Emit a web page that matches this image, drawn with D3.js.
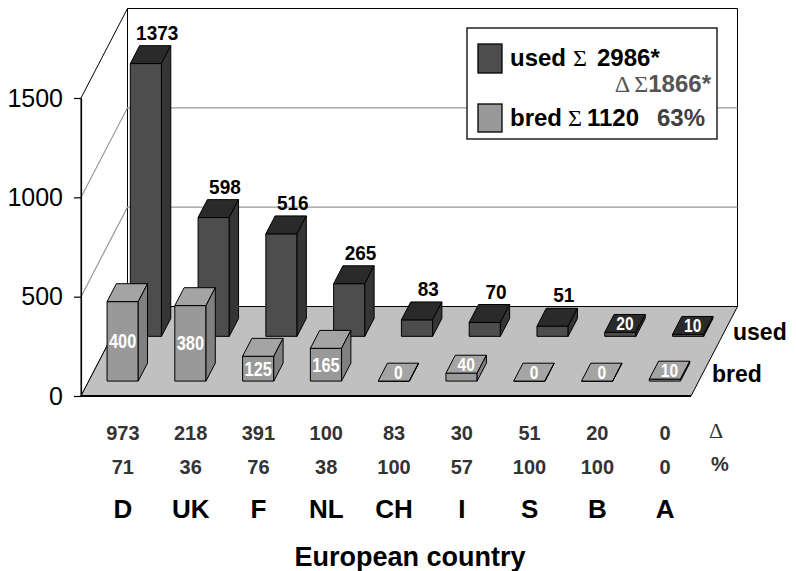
<!DOCTYPE html>
<html>
<head>
<meta charset="utf-8">
<script src="https://cdn.jsdelivr.net/npm/d3@7"></script>
<style>
  html, body { margin: 0; padding: 0; background: #fff; }
  svg { display: block; font-family: "Liberation Sans", Arial, sans-serif; }
</style>
</head>
<body>
<svg id="chart" width="796" height="571"></svg>
<script>
// Countries and the two series (animals used / bred per country)
const countries = ["D", "UK", "F", "NL", "CH", "I", "S", "B", "A"];
const usedValues = [1373, 598, 516, 265, 83, 70, 51, 20, 10];
const bredValues = [400, 380, 125, 165, 0, 40, 0, 0, 10];
// Difference row (used - bred) and its share of used, in %
const deltaValues = [973, 218, 391, 100, 83, 30, 51, 20, 0];
const pctValues = [71, 36, 76, 38, 100, 57, 100, 100, 0];
const legendPct = 63;
const yTicks = [0, 500, 1000, 1500];
const seriesNames = ["bred", "used"];

const svg = d3.select("#chart");
const FONT = "'Liberation Sans', Arial, sans-serif";
const SERIF = "'Liberation Serif', 'Times New Roman', serif";

// Front plane scales
const x = d3.scaleBand().domain(countries).range([81, 691]);
const y = d3.scaleLinear().domain([0, 1500]).range([396, 98]);
// Depth axis: 0 = front edge of floor, 1 = back wall
const depth = d3.scaleBand().domain(seriesNames).range([0, 1]);
const DX = 46.5, DY = 89.5;
const P = (px, v, d) => [px + DX * d, y(v) - DY * d];
const poly = pts => "M" + pts.map(p => p.join(",")).join("L") + "Z";

const x0 = x.range()[0], x1 = x.range()[1];
const vMax = y.domain()[1];

// Walls
svg.append("path")
  .attr("d", poly([P(x0, 0, 1), P(x0, vMax, 1), P(x1, vMax, 1), P(x1, 0, 1)]))
  .attr("fill", "#fff").attr("stroke", "#000").attr("stroke-width", 1);
svg.append("path")
  .attr("d", poly([P(x0, 0, 0), P(x0, vMax, 0), P(x0, vMax, 1), P(x0, 0, 1)]))
  .attr("fill", "#fff").attr("stroke", "#000").attr("stroke-width", 1);

// Gridlines across side and back wall
yTicks.filter(v => v > 0 && v < vMax).forEach(v => {
  const a = P(x0, v, 0), b = P(x0, v, 1), c = P(x1, v, 1);
  svg.append("path")
    .attr("d", `M${a}L${b}L${c}`)
    .attr("fill", "none").attr("stroke", "#999").attr("stroke-width", 1.2);
});

// Floor
svg.append("path")
  .attr("d", poly([P(x0, 0, 0), P(x1, 0, 0), P(x1, 0, 1), P(x0, 0, 1)]))
  .attr("fill", "#c0c0c0").attr("stroke", "#000").attr("stroke-width", 1);
svg.append("line")
  .attr("x1", P(x0, 0, 0)[0]).attr("y1", P(x0, 0, 0)[1])
  .attr("x2", P(x1, 0, 0)[0]).attr("y2", P(x1, 0, 0)[1])
  .attr("stroke", "#000").attr("stroke-width", 2);

// Value axis on the front-left edge
const axis = svg.append("g")
  .attr("transform", `translate(${x0},0)`)
  .call(d3.axisLeft(y).tickValues(yTicks).tickFormat(d3.format("d"))
    .tickSize(7).tickSizeOuter(0).tickPadding(11));
axis.select(".domain").attr("stroke", "#000").attr("stroke-width", 1.2);
axis.selectAll(".tick line").attr("stroke", "#000").attr("stroke-width", 1.2);
axis.selectAll(".tick text")
  .attr("font-family", FONT).attr("font-size", 25).attr("fill", "#000");

// Bars
const colors = {
  used: { front: "#4d4d4d", top: "#2a2a2a", side: "#353535" },
  bred: { front: "#999999", top: "#a4a4a4", side: "#808080" }
};
const seriesData = { used: usedValues, bred: bredValues };
const barW = x.bandwidth() * 0.46;
const barsG = svg.append("g");
const labelsG = svg.append("g");

["used", "bred"].forEach(s => {
  const df = depth(s) + depth.bandwidth() / 3;
  const db = df + depth.bandwidth() * 0.4;
  const col = colors[s];
  seriesData[s].forEach((v, i) => {
    const xl = x(countries[i]) + (x.bandwidth() - barW) / 2;
    const xr = xl + barW;
    const xc = (xl + xr) / 2;
    const g = barsG.append("g")
      .attr("stroke", "#000").attr("stroke-width", 1).attr("stroke-linejoin", "round");
    g.append("path").attr("fill", col.front)
      .attr("d", poly([P(xl, 0, df), P(xr, 0, df), P(xr, v, df), P(xl, v, df)]));
    g.append("path").attr("fill", col.top)
      .attr("d", poly([P(xl, v, df), P(xr, v, df), P(xr, v, db), P(xl, v, db)]));
    g.append("path").attr("fill", col.side)
      .attr("d", poly([P(xr, 0, df), P(xr, v, df), P(xr, v, db), P(xr, 0, db)]));

    const hPx = y(0) - y(v);
    let lx, ly, fill, size, sx;
    if (s === "used" && v >= 50) {
      const p = P(xc, v, db);
      lx = p[0] + 2; ly = p[1] - 6; fill = "#000"; size = 20; sx = 0.95;
    } else if (s === "bred" && hPx >= 20) {
      const p = P(xc, v / 2, df);
      lx = p[0]; ly = p[1] + 7; fill = "#fff"; size = 20; sx = 0.82;
    } else {
      const p = P(xc, v, (df + db) / 2);
      lx = p[0]; ly = p[1] + 7; fill = "#fff"; size = 19; sx = 0.82;
    }
    labelsG.append("text")
      .attr("transform", `translate(${lx},${ly}) scale(${sx},1)`)
      .attr("text-anchor", "middle")
      .attr("font-family", FONT).attr("font-weight", "bold")
      .attr("font-size", size).attr("fill", fill)
      .text(v);
  });
});

// Row labels at the right of the floor
svg.append("text").attr("x", 733).attr("y", 340)
  .attr("font-family", FONT).attr("font-weight", "bold").attr("font-size", 23)
  .text("used");
svg.append("text").attr("x", 712).attr("y", 382)
  .attr("font-family", FONT).attr("font-weight", "bold").attr("font-size", 23)
  .text("bred");

// Legend
const usedSum = d3.sum(usedValues), bredSum = d3.sum(bredValues);
const deltaSum = usedSum - bredSum;
const lg = svg.append("g");
lg.append("rect").attr("x", 467).attr("y", 28).attr("width", 250).attr("height", 111)
  .attr("fill", "#fff").attr("stroke", "#000").attr("stroke-width", 1.3);
lg.append("rect").attr("x", 478).attr("y", 44).attr("width", 24).attr("height", 29)
  .attr("fill", colors.used.front).attr("stroke", "#000").attr("stroke-width", 1.3);
lg.append("rect").attr("x", 478).attr("y", 104).attr("width", 24).attr("height", 28)
  .attr("fill", colors.bred.front).attr("stroke", "#000").attr("stroke-width", 1.3);

const t1 = lg.append("text").attr("x", 510).attr("y", 66)
  .attr("font-family", FONT).attr("font-weight", "bold").attr("font-size", 24);
t1.append("tspan").text("used");
t1.append("tspan").attr("x", 573).attr("font-family", SERIF).attr("font-weight", "normal").text("Σ");
t1.append("tspan").attr("x", 597).text(usedSum + "*");

const t2 = lg.append("text").attr("x", 711).attr("y", 92).attr("text-anchor", "end")
  .attr("font-family", FONT).attr("font-weight", "bold").attr("font-size", 24).attr("fill", "#555");
t2.append("tspan").attr("font-family", SERIF).attr("font-weight", "normal").text("Δ");
t2.append("tspan").attr("dx", 4).attr("font-family", SERIF).attr("font-weight", "normal").text("Σ");
t2.append("tspan").text(deltaSum + "*");

const t3 = lg.append("text").attr("x", 510).attr("y", 126)
  .attr("font-family", FONT).attr("font-weight", "bold").attr("font-size", 24);
t3.append("tspan").text("bred");
t3.append("tspan").attr("x", 568).attr("font-family", SERIF).attr("font-weight", "normal").text("Σ");
t3.append("tspan").attr("x", 587).text(bredSum);
t3.append("tspan").attr("x", 657).attr("fill", "#404040").text(legendPct + "%");

// Rows under the chart: difference, percentage, country
const labelX = c => x(c) + x.bandwidth() / 2 + 8;
const rows = svg.append("g").attr("font-family", FONT).attr("font-weight", "bold")
  .attr("text-anchor", "middle");
rows.selectAll("text.delta").data(deltaValues).join("text")
  .attr("class", "delta")
  .attr("x", (d, i) => labelX(countries[i])).attr("y", 440)
  .attr("font-size", 20).attr("fill", "#333").text(d => d);
rows.selectAll("text.pct").data(pctValues).join("text")
  .attr("class", "pct")
  .attr("x", (d, i) => labelX(countries[i])).attr("y", 474)
  .attr("font-size", 20).attr("fill", "#333").text(d => d);
rows.selectAll("text.country").data(countries).join("text")
  .attr("class", "country")
  .attr("x", d => labelX(d)).attr("y", 518)
  .attr("font-size", 26).attr("fill", "#000").text(d => d);

svg.append("text").attr("x", 716).attr("y", 438).attr("text-anchor", "middle")
  .attr("font-family", SERIF).attr("font-size", 22).attr("fill", "#333").text("Δ");
svg.append("text").attr("x", 720).attr("y", 471).attr("text-anchor", "middle")
  .attr("font-family", FONT).attr("font-weight", "bold").attr("font-size", 20).attr("fill", "#333").text("%");

// Axis title
svg.append("text").attr("x", 410).attr("y", 566).attr("text-anchor", "middle")
  .attr("font-family", FONT).attr("font-weight", "bold").attr("font-size", 27)
  .text("European country");
</script>
</body>
</html>
